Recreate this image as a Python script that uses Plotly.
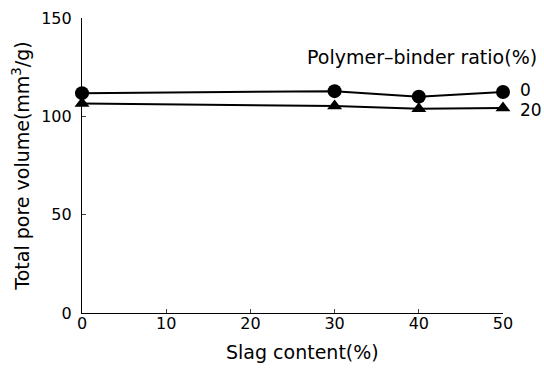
import plotly.graph_objects as go

slag = [0, 30, 40, 50]
pbr0 = [111.8, 112.8, 110.0, 112.4]
pbr20 = [106.5, 105.3, 103.8, 104.2]
series_labels = ["0", "20"]
x_ticks = [0, 10, 20, 30, 40, 50]
y_ticks = [0, 50, 100, 150]

fig = go.Figure()
fig.add_trace(go.Scatter(x=slag, y=pbr0, mode="lines+markers", name=series_labels[0],
                         line=dict(color="black", width=2),
                         marker=dict(symbol="circle", size=14, color="black"),
                         cliponaxis=False))
fig.add_trace(go.Scatter(x=slag, y=pbr20, mode="lines+markers", name=series_labels[1],
                         line=dict(color="black", width=2),
                         marker=dict(symbol="triangle-up", size=13, color="black"),
                         cliponaxis=False))

font_family = "DejaVu Sans, Verdana, sans-serif"
for lab, vals, ys in [(series_labels[0], pbr0, 2), (series_labels[1], pbr20, -2)]:
    fig.add_annotation(x=slag[-1], y=vals[-1], text=lab, showarrow=False,
                       xanchor="left", xshift=15, yshift=ys,
                       font=dict(size=17, color="black", family=font_family))

fig.add_annotation(x=0.808, y=0.868, xref="paper", yref="paper", xanchor="center",
                   yanchor="middle", text="Polymer\u2013binder ratio(%)", showarrow=False,
                   font=dict(size=19, color="black", family=font_family))

# x-axis title (slightly right of centre, as in the original)
fig.add_annotation(x=0.523, y=0, xref="paper", yref="paper", xanchor="center",
                   yanchor="middle", yshift=-39, text="Slag content(%)", showarrow=False,
                   font=dict(size=19, color="black", family=font_family))

fig.update_layout(
    width=544, height=369,
    margin=dict(l=82, r=41, t=18, b=56),
    paper_bgcolor="white", plot_bgcolor="white",
    showlegend=False,
    font=dict(family=font_family, size=17, color="black"),
)
fig.update_xaxes(range=[0, 50], tickvals=x_ticks, ticks="inside", ticklen=4,
                 showline=True, linecolor="black", linewidth=1.2, showgrid=False,
                 zeroline=False, automargin=False, ticklabelstandoff=-4,
                 tickfont=dict(size=16))
fig.update_yaxes(range=[0, 150], tickvals=y_ticks, ticks="inside", ticklen=4,
                 showline=True, linecolor="black", linewidth=1.2, showgrid=False,
                 zeroline=False, automargin=False, ticklabelstandoff=6,
                 title=dict(text="Total pore volume(mm<sup>3</sup>/g)", standoff=6, font=dict(size=19)),
                 tickfont=dict(size=16))

fig.write_html("out.html", config={"displayModeBar": False},
               post_script="document.body.style.margin='0';")
